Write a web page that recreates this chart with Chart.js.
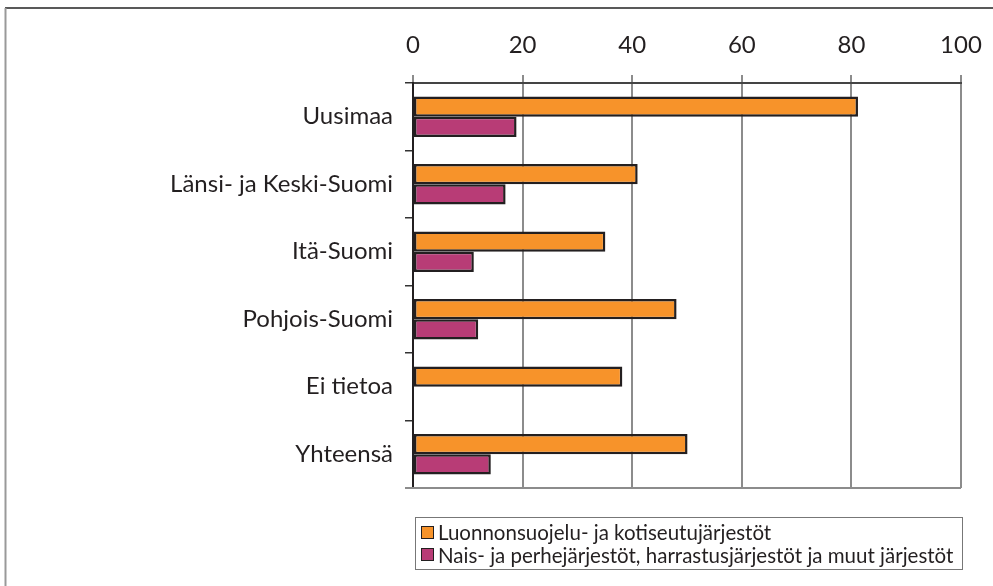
<!DOCTYPE html>
<html>
<head>
<meta charset="utf-8">
<script src="https://cdn.jsdelivr.net/npm/chart.js@4.4.1/dist/chart.umd.min.js"></script>
<style>
  html, body { margin:0; padding:0; background:#fff; }
  #wrap { position:relative; width:993px; height:586px; }
  canvas { position:absolute; left:0; top:0; }
  #legend { position:absolute; left:415px; top:517px; width:548px; height:53px;
    border:1.5px solid #777; box-sizing:border-box; padding:3px 0 0 5px;
    font-family: Lato, "Open Sans", sans-serif; font-size:20.5px; color:#231f20; line-height:22.5px; }
  #legend .item { display:flex; align-items:center; white-space:nowrap; }
  #legend .sw { width:13px; height:13px; border:1.5px solid #231f20; box-sizing:border-box; margin-right:4px; }
</style>
</head>
<body>
<div id="wrap">
  <canvas id="c" width="993" height="586"></canvas>
  <div id="legend"></div>
</div>
<script>
const categories = ["Uusimaa", "Länsi- ja Keski-Suomi", "Itä-Suomi", "Pohjois-Suomi", "Ei tietoa", "Yhteensä"];
const seriesNames = ["Luonnonsuojelu- ja kotiseutujärjestöt", "Nais- ja perhejärjestöt, harrastusjärjestöt ja muut järjestöt"];
const luonnonsuojelu = [81.2, 41.0, 35.1, 48.1, 38.2, 50.1];
const naisJaMuut = [18.9, 16.9, 11.1, 11.9, null, 14.2];
const xTicks = [0, 20, 40, 60, 80, 100];
const colors = ["#f7932a", "#b83c76"];

const FONT = 'Lato, "Open Sans", sans-serif';

const framePlugin = {
  id: 'frame',
  afterDraw(chart) {
    const ctx = chart.ctx, a = chart.chartArea;
    ctx.save();
    ctx.strokeStyle = '#222'; ctx.lineWidth = 1.5;
    ctx.beginPath(); ctx.moveTo(5, 8); ctx.lineTo(993, 8); ctx.stroke();
    ctx.strokeStyle = '#999'; ctx.lineWidth = 2;
    ctx.beginPath(); ctx.moveTo(5.5, 8); ctx.lineTo(5.5, 586); ctx.stroke();
    ctx.strokeStyle = '#8c8c8c'; ctx.lineWidth = 2;
    ctx.beginPath(); ctx.moveTo(a.left - 8, a.bottom); ctx.lineTo(a.right, a.bottom); ctx.stroke();
    ctx.restore();
  }
};

const chart = new Chart(document.getElementById('c'), {
  type: 'bar',
  data: {
    labels: categories,
    datasets: [
      { label: seriesNames[0], data: luonnonsuojelu, backgroundColor: colors[0], borderColor: '#231f20', borderWidth: 2.5, borderSkipped: false },
      { label: seriesNames[1], data: naisJaMuut, backgroundColor: colors[1], borderColor: '#231f20', borderWidth: 2.5, borderSkipped: false }
    ]
  },
  options: {
    indexAxis: 'y',
    responsive: false,
    animation: false,
    devicePixelRatio: 1,
    layout: { padding: { left: 0, top: 0, right: 32, bottom: 98 } },
    datasets: { bar: { categoryPercentage: 0.6, barPercentage: 1.0 } },
    plugins: { legend: { display: false }, tooltip: { enabled: false } },
    scales: {
      x: {
        position: 'top', min: 0, max: 100,
        afterFit(s) { s.height = 83; s.paddingLeft = 0; s.paddingRight = 0; },
        ticks: { stepSize: 20, font: { family: FONT, size: 24 }, color: '#231f20', padding: 15,
                 callback: (v) => xTicks.includes(v) ? String(v) : null },
        grid: { color: '#8c8c8c', lineWidth: 2, tickLength: 8 },
        border: { display: true, color: '#444', width: 2 }
      },
      y: {
        afterFit(s) { s.width = 413; s.paddingTop = 0; s.paddingBottom = 0; },
        ticks: { font: { family: FONT, size: 24 }, color: '#231f20', padding: 12 },
        grid: { drawOnChartArea: false, drawTicks: true, tickLength: 8, color: '#333', lineWidth: 1.5, offset: true },
        border: { display: true, color: '#231f20', width: 2 }
      }
    }
  },
  plugins: [framePlugin]
});

const leg = document.getElementById('legend');
chart.data.datasets.forEach(ds => {
  const d = document.createElement('div'); d.className = 'item';
  const sw = document.createElement('span'); sw.className = 'sw'; sw.style.background = ds.backgroundColor;
  const t = document.createElement('span'); t.textContent = ds.label;
  d.appendChild(sw); d.appendChild(t); leg.appendChild(d);
});
</script>
</body>
</html>
